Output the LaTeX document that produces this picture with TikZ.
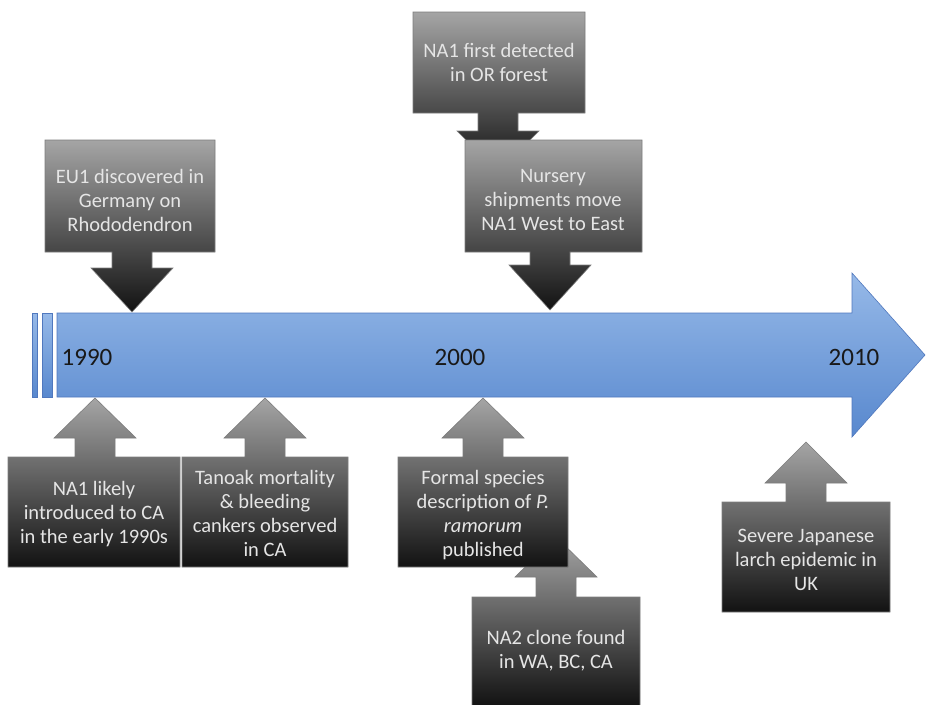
\documentclass[tikz,border=0pt]{standalone}
\usepackage{fontspec}
\setmainfont{Carlito}
\usetikzlibrary{positioning}

\definecolor{calltop}{RGB}{165,165,165}
\definecolor{callbot}{RGB}{18,18,18}
\definecolor{calledge}{RGB}{125,125,125}
\definecolor{linetop}{RGB}{150,185,232}
\definecolor{linebot}{RGB}{88,136,206}
\definecolor{lineedge}{RGB}{80,120,190}

% box, stem and head of one callout: left, right, far edge, near edge, centre, head base, tip
\newcommand{\callout}[7]{%
  \path[callout] (#1,#3) -- (#2,#3) -- (#2,#4) -- ({#5+20},#4) -- ({#5+20},#6)
    -- ({#5+41},#6) -- (#5,#7) -- ({#5-41},#6) -- ({#5-20},#6)
    -- ({#5-20},#4) -- (#1,#4) -- cycle;}

\begin{document}
\begin{tikzpicture}[
    x=1pt, y=-1pt,
    callout/.style={top color=calltop, bottom color=callbot, draw=calledge, line width=0.6pt},
    timeline/.style={top color=linetop, bottom color=linebot, draw=lineedge, line width=0.6pt},
    note/.style={align=center, text=white!90!black, inner sep=0pt,
      font=\fontsize{20.5}{24}\selectfont},
    year/.style={text=black!90, inner sep=0pt, font=\fontsize{25}{30}\selectfont}]
  \useasboundingbox[fill=white] (0,0) rectangle (926,704);

  % time line
  \path[timeline] (32,313) rectangle (37,397);
  \path[timeline] (42,313) rectangle (52,397);
  \path[timeline] (57,313) -- (852,313) -- (852,273) -- (925,355)
    -- (852,437) -- (852,397) -- (57,397) -- cycle;
  \node[year] (y1990) at (87,357) {1990};
  \node[year] (y2000) at (460,357) {2000};
  \node[year] (y2010) at (854,357) {2010};

  % above the line
  \callout{45}{215}{140}{252}{132}{268}{312}
  \node[note] (eu1) at (130,200) {EU1 discovered in\\Germany on\\Rhododendron};
  \callout{413}{585}{12}{113}{498}{131}{172}
  \node[note] (orforest) at (499,62) {NA1 first detected\\in OR forest};
  \callout{465}{642}{140}{252}{550}{265}{310}
  \node[note] (nursery) at (553,200) {Nursery\\shipments move\\NA1 West to East};

  % below the line
  \callout{8}{180}{567}{457}{95}{438}{398}
  \node[note] (na1ca) at (94,514) {NA1 likely\\introduced to CA\\in the early 1990s};
  \callout{182}{348}{567}{457}{265}{438}{398}
  \node[note] (tanoak) at (265,513) {Tanoak mortality\\\& bleeding\\cankers observed\\in CA};
  \callout{472}{640}{706}{597}{556}{577}{537}
  \node[note] (na2) at (556,651) {NA2 clone found\\in WA, BC, CA};
  \callout{398}{568}{567}{457}{483}{438}{398}
  \node[note] (ramorum) at (483,515) {Formal species\\description of \emph{P.}\\\emph{ramorum}\\published};
  \callout{722}{890}{612}{502}{806}{483}{442}
  \node[note] (larch) at (806,560) {Severe Japanese\\larch epidemic in\\UK};
\end{tikzpicture}
\end{document}
